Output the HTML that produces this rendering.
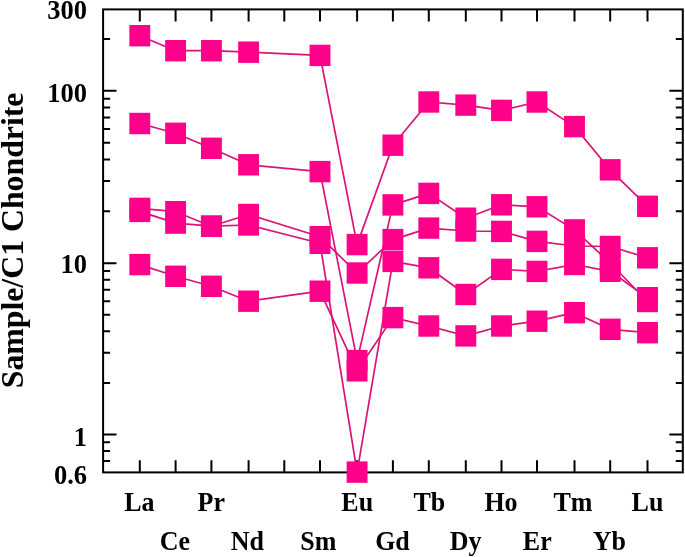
<!DOCTYPE html><html><head><meta charset="utf-8"><style>html,body{margin:0;padding:0;background:#fff;}svg{display:block;}</style></head><body>
<svg width="685" height="557" viewBox="0 0 685 557">
<g fill="none" stroke="#dc1278" stroke-width="1.7" stroke-linejoin="round">
<polyline points="139.8,35.7 175.6,50.7 211.4,50.7 248.6,52.2 320.0,55.4 357.1,244.6 392.9,145.2 428.8,102.0 465.8,105.1 501.5,110.4 537.0,102.0 574.5,126.6 610.2,169.8 647.5,206.3"/>
<polyline points="139.8,123.5 175.6,133.3 211.4,148.3 248.6,164.8 320.0,171.6 357.1,360.6 392.9,204.9 428.8,193.4 465.8,218.2 501.5,204.8 537.0,206.8 574.5,229.9 610.2,263.0 647.5,301.5"/>
<polyline points="139.8,208.4 175.6,211.7 211.4,226.2 248.6,214.5 320.0,236.7 357.1,273.0 392.9,239.6 428.8,228.1 465.8,231.0 501.5,231.4 537.0,241.4 574.5,246.0 610.2,246.5 647.5,257.8"/>
<polyline points="139.8,211.4 175.6,223.1 211.4,226.2 248.6,225.0 320.0,243.3 357.1,472.1 392.9,261.4 428.8,267.8 465.8,294.5 501.5,269.4 537.0,271.4 574.5,264.5 610.2,271.3 647.5,297.7"/>
<polyline points="139.8,264.6 175.6,276.3 211.4,286.3 248.6,301.2 320.0,291.2 357.1,370.8 392.9,317.6 428.8,326.0 465.8,335.9 501.5,326.0 537.0,321.2 574.5,312.7 610.2,329.3 647.5,332.7"/>
</g>
<g stroke="#000" stroke-width="2.0" fill="none">
<rect x="103.1" y="9.4" width="579.6999999999999" height="463.0"/>
<path d="M139.8 472.4V460.2 M139.8 9.4V21.6 M175.6 472.4V460.2 M175.6 9.4V21.6 M211.4 472.4V460.2 M211.4 9.4V21.6 M248.6 472.4V460.2 M248.6 9.4V21.6 M284.3 472.4V460.2 M284.3 9.4V21.6 M320.0 472.4V460.2 M320.0 9.4V21.6 M357.1 472.4V460.2 M357.1 9.4V21.6 M392.9 472.4V460.2 M392.9 9.4V21.6 M428.8 472.4V460.2 M428.8 9.4V21.6 M465.8 472.4V460.2 M465.8 9.4V21.6 M501.5 472.4V460.2 M501.5 9.4V21.6 M537.0 472.4V460.2 M537.0 9.4V21.6 M574.5 472.4V460.2 M574.5 9.4V21.6 M610.2 472.4V460.2 M610.2 9.4V21.6 M647.5 472.4V460.2 M647.5 9.4V21.6 M103.1 461.0H110.1 M682.8 461.0H675.8 M103.1 451.0H110.1 M682.8 451.0H675.8 M103.1 442.3H110.1 M682.8 442.3H675.8 M103.1 434.4H116.5 M682.8 434.4H669.4 M103.1 382.9H110.1 M682.8 382.9H675.8 M103.1 352.7H110.1 M682.8 352.7H675.8 M103.1 331.3H110.1 M682.8 331.3H675.8 M103.1 314.7H110.1 M682.8 314.7H675.8 M103.1 301.2H110.1 M682.8 301.2H675.8 M103.1 289.7H110.1 M682.8 289.7H675.8 M103.1 279.8H110.1 M682.8 279.8H675.8 M103.1 271.0H110.1 M682.8 271.0H675.8 M103.1 263.2H116.5 M682.8 263.2H669.4 M103.1 211.3H110.1 M682.8 211.3H675.8 M103.1 180.9H110.1 M682.8 180.9H675.8 M103.1 159.4H110.1 M682.8 159.4H675.8 M103.1 142.7H110.1 M682.8 142.7H675.8 M103.1 129.0H110.1 M682.8 129.0H675.8 M103.1 117.5H110.1 M682.8 117.5H675.8 M103.1 107.5H110.1 M682.8 107.5H675.8 M103.1 98.7H110.1 M682.8 98.7H675.8 M103.1 90.8H116.5 M682.8 90.8H669.4 M103.1 39.1H110.1 M682.8 39.1H675.8"/>
</g>
<g fill="#ff008a" stroke="none" stroke-width="0.0">
<rect x="129.35" y="25.00" width="20.90" height="21.40"/>
<rect x="165.15" y="40.00" width="20.90" height="21.40"/>
<rect x="200.95" y="40.00" width="20.90" height="21.40"/>
<rect x="238.15" y="41.50" width="20.90" height="21.40"/>
<rect x="309.55" y="44.70" width="20.90" height="21.40"/>
<rect x="346.65" y="233.90" width="20.90" height="21.40"/>
<rect x="382.45" y="134.50" width="20.90" height="21.40"/>
<rect x="418.35" y="91.30" width="20.90" height="21.40"/>
<rect x="455.35" y="94.40" width="20.90" height="21.40"/>
<rect x="491.05" y="99.70" width="20.90" height="21.40"/>
<rect x="526.55" y="91.30" width="20.90" height="21.40"/>
<rect x="564.05" y="115.90" width="20.90" height="21.40"/>
<rect x="599.75" y="159.10" width="20.90" height="21.40"/>
<rect x="637.05" y="195.60" width="20.90" height="21.40"/>
<rect x="129.35" y="112.80" width="20.90" height="21.40"/>
<rect x="165.15" y="122.60" width="20.90" height="21.40"/>
<rect x="200.95" y="137.60" width="20.90" height="21.40"/>
<rect x="238.15" y="154.10" width="20.90" height="21.40"/>
<rect x="309.55" y="160.90" width="20.90" height="21.40"/>
<rect x="346.65" y="349.90" width="20.90" height="21.40"/>
<rect x="382.45" y="194.20" width="20.90" height="21.40"/>
<rect x="418.35" y="182.70" width="20.90" height="21.40"/>
<rect x="455.35" y="207.50" width="20.90" height="21.40"/>
<rect x="491.05" y="194.10" width="20.90" height="21.40"/>
<rect x="526.55" y="196.10" width="20.90" height="21.40"/>
<rect x="564.05" y="219.20" width="20.90" height="21.40"/>
<rect x="599.75" y="252.30" width="20.90" height="21.40"/>
<rect x="637.05" y="290.80" width="20.90" height="21.40"/>
<rect x="129.35" y="197.70" width="20.90" height="21.40"/>
<rect x="165.15" y="201.00" width="20.90" height="21.40"/>
<rect x="200.95" y="215.50" width="20.90" height="21.40"/>
<rect x="238.15" y="203.80" width="20.90" height="21.40"/>
<rect x="309.55" y="226.00" width="20.90" height="21.40"/>
<rect x="346.65" y="262.30" width="20.90" height="21.40"/>
<rect x="382.45" y="228.90" width="20.90" height="21.40"/>
<rect x="418.35" y="217.40" width="20.90" height="21.40"/>
<rect x="455.35" y="220.30" width="20.90" height="21.40"/>
<rect x="491.05" y="220.70" width="20.90" height="21.40"/>
<rect x="526.55" y="230.70" width="20.90" height="21.40"/>
<rect x="564.05" y="235.30" width="20.90" height="21.40"/>
<rect x="599.75" y="235.80" width="20.90" height="21.40"/>
<rect x="637.05" y="247.10" width="20.90" height="21.40"/>
<rect x="129.35" y="200.70" width="20.90" height="21.40"/>
<rect x="165.15" y="212.40" width="20.90" height="21.40"/>
<rect x="200.95" y="215.50" width="20.90" height="21.40"/>
<rect x="238.15" y="214.30" width="20.90" height="21.40"/>
<rect x="309.55" y="232.60" width="20.90" height="21.40"/>
<rect x="346.65" y="461.40" width="20.90" height="21.40"/>
<rect x="382.45" y="250.70" width="20.90" height="21.40"/>
<rect x="418.35" y="257.10" width="20.90" height="21.40"/>
<rect x="455.35" y="283.80" width="20.90" height="21.40"/>
<rect x="491.05" y="258.70" width="20.90" height="21.40"/>
<rect x="526.55" y="260.70" width="20.90" height="21.40"/>
<rect x="564.05" y="253.80" width="20.90" height="21.40"/>
<rect x="599.75" y="260.60" width="20.90" height="21.40"/>
<rect x="637.05" y="287.00" width="20.90" height="21.40"/>
<rect x="129.35" y="253.90" width="20.90" height="21.40"/>
<rect x="165.15" y="265.60" width="20.90" height="21.40"/>
<rect x="200.95" y="275.60" width="20.90" height="21.40"/>
<rect x="238.15" y="290.50" width="20.90" height="21.40"/>
<rect x="309.55" y="280.50" width="20.90" height="21.40"/>
<rect x="346.65" y="360.10" width="20.90" height="21.40"/>
<rect x="382.45" y="306.90" width="20.90" height="21.40"/>
<rect x="418.35" y="315.30" width="20.90" height="21.40"/>
<rect x="455.35" y="325.20" width="20.90" height="21.40"/>
<rect x="491.05" y="315.30" width="20.90" height="21.40"/>
<rect x="526.55" y="310.50" width="20.90" height="21.40"/>
<rect x="564.05" y="302.00" width="20.90" height="21.40"/>
<rect x="599.75" y="318.60" width="20.90" height="21.40"/>
<rect x="637.05" y="322.00" width="20.90" height="21.40"/>
</g>
<g font-family="&quot;Liberation Serif&quot;, &quot;Times New Roman&quot;, serif" font-weight="bold" fill="#000">
<text x="87" y="19.3" font-size="26.5" text-anchor="end">300</text>
<text x="87" y="102" font-size="26.5" text-anchor="end">100</text>
<text x="87" y="272.6" font-size="26.5" text-anchor="end">10</text>
<text x="87" y="445.9" font-size="26.5" text-anchor="end">1</text>
<text x="87" y="483.7" font-size="26.5" text-anchor="end">0.6</text>
<text transform="translate(139.3,510.7) scale(1,1.055)" font-size="26" text-anchor="middle">La</text>
<text transform="translate(211.3,510.7) scale(1,1.055)" font-size="26" text-anchor="middle">Pr</text>
<text transform="translate(357.2,510.7) scale(1,1.055)" font-size="26" text-anchor="middle">Eu</text>
<text transform="translate(429.4,510.7) scale(1,1.055)" font-size="26" text-anchor="middle">Tb</text>
<text transform="translate(501.0,510.7) scale(1,1.055)" font-size="26" text-anchor="middle">Ho</text>
<text transform="translate(573.0,510.7) scale(1,1.055)" font-size="26" text-anchor="middle">Tm</text>
<text transform="translate(647.5,510.7) scale(1,1.055)" font-size="26" text-anchor="middle">Lu</text>
<text transform="translate(174.8,549.9) scale(1,1.055)" font-size="26" text-anchor="middle">Ce</text>
<text transform="translate(247.4,549.9) scale(1,1.055)" font-size="26" text-anchor="middle">Nd</text>
<text transform="translate(318.3,549.9) scale(1,1.055)" font-size="26" text-anchor="middle">Sm</text>
<text transform="translate(392.5,549.9) scale(1,1.055)" font-size="26" text-anchor="middle">Gd</text>
<text transform="translate(465.7,549.9) scale(1,1.055)" font-size="26" text-anchor="middle">Dy</text>
<text transform="translate(537.3,549.9) scale(1,1.055)" font-size="26" text-anchor="middle">Er</text>
<text transform="translate(609.4,549.9) scale(1,1.055)" font-size="26" text-anchor="middle">Yb</text>
<text transform="translate(22.8,240.4) rotate(-90) scale(1.006,1.025)" font-size="31.6" text-anchor="middle">Sample/C1 Chondrite</text>
</g>
</svg></body></html>
